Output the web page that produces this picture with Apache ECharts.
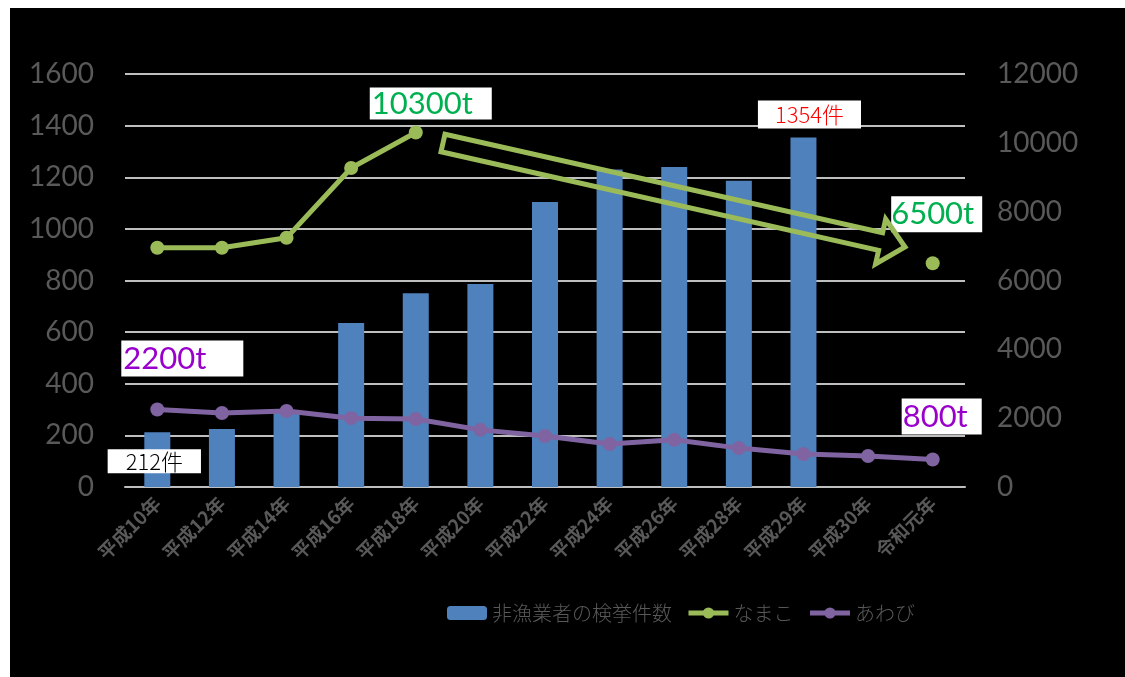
<!DOCTYPE html>
<html>
<head>
<meta charset="utf-8">
<title>非漁業者の検挙件数となまこ・あわび</title>
<script src="https://cdn.jsdelivr.net/npm/echarts@6/dist/echarts.min.js"></script>
<style>
	html, body { margin: 0; padding: 0; background: #fff; }
	#main { position: absolute; left: 10px; top: 8px; width: 1115px; height: 669px; background: #000; }
</style>
</head>
<body>
<div id="main"></div>
<script>
// データ
var categories = ['平成10年', '平成12年', '平成14年', '平成16年', '平成18年', '平成20年', '平成22年', '平成24年', '平成26年', '平成28年', '平成29年', '平成30年', '令和元年'];
var kenkyo = [212, 225, 290, 635, 751, 786, 1104, 1230, 1240, 1186, 1354, null, null];
var namako = [6950, 6950, 7240, 9270, 10300, null, null, null, null, null, null, null, 6500];
var awabi = [2250, 2150, 2210, 2000, 1975, 1660, 1480, 1250, 1370, 1130, 960, 900, 800];
var leftTicks = [0, 1600, 200];
var rightTicks = [0, 12000, 2000];

var gray = '#595959';
var jp = '"Noto Sans CJK JP"';

// 白枠付きのラベル
function boxLabel(text, color, size, pad, offset) {
	return {
		show: true,
		position: 'top',
		distance: 0,
		offset: offset,
		formatter: text,
		color: color,
		fontSize: size,
		fontFamily: size > 24 ? 'Lato' : jp,
		fontWeight: size > 24 ? 'normal' : 300,
		backgroundColor: '#fff',
		padding: pad
	};
}

var barData = kenkyo.map(function(v, i) {
	if(i == 0) return { value: v, label: boxLabel('212件', '#000', 22, [1, 18, 1, 18], [-3, 41]) };
	if(i == 10) return { value: v, label: boxLabel('1354件', '#ff0000', 22, [3, 17, 3, 17], [6, -9]) };
	return v;
});
var namakoData = namako.map(function(v, i) {
	if(i == 4) return { value: v, label: boxLabel('10300t', '#00b050', 31, [1, 19, 0, 2], [15, -6]) };
	if(i == 12) return { value: v, label: boxLabel('6500t', '#00b050', 31, [2, 8, 3, 0], [4, -24]) };
	return v;
});
var awabiData = awabi.map(function(v, i) {
	if(i == 0) return { value: v, label: boxLabel('2200t', '#9900cc', 31, [3, 37, 2, 2], [25, -26]) };
	if(i == 12) return { value: v, label: boxLabel('800t', '#9900cc', 31, [3, 14, 2, 1], [9, -18]) };
	return v;
});

var myChart = echarts.init(document.getElementById('main'));

// 矢印（白抜き）
var tail = [443, 143], tip = [905, 247];
var dx = tip[0] - tail[0], dy = tip[1] - tail[1];
var len = Math.sqrt(dx * dx + dy * dy);
var ux = dx / len, uy = dy / len, nx = -uy, ny = ux;
var bx = tip[0] - 25 * ux - 10, by = tip[1] - 25 * uy - 8;
function pt(x, y, k) { return [x + k * nx, y + k * ny]; }
var arrowPts = [
	pt(tail[0] - 10, tail[1] - 8, -9), pt(bx, by, -9), pt(bx, by, -23),
	[tip[0] - 10, tip[1] - 8],
	pt(bx, by, 23), pt(bx, by, 9), pt(tail[0] - 10, tail[1] - 8, 9)
];

// 桁区切りなし
function plain(v) { return String(v); }

option = {
	backgroundColor: '#000',
	animation: false,
	grid: {
		left: 115,
		right: 160,
		top: 66,
		bottom: 190
	},
	legend: {
		left: 432,
		top: 590,
		itemWidth: 40,
		itemHeight: 14,
		itemGap: 14,
		textStyle: { color: gray, fontSize: 20, fontFamily: jp, fontWeight: 300 },
		data: [
			{ name: '非漁業者の検挙件数' },
			{ name: 'なまこ', lineStyle: { width: 5 } },
			{ name: 'あわび', lineStyle: { width: 5 } }
		]
	},
	xAxis: {
		type: 'category',
		data: categories,
		axisLine: { lineStyle: { color: '#bfbfbf', width: 2 } },
		axisTick: { show: false },
		axisLabel: {
			rotate: 45,
			interval: 0,
			margin: 13,
			color: gray,
			fontSize: 19,
			fontWeight: 'bold',
			fontFamily: jp
		}
	},
	yAxis: [{
		type: 'value',
		min: leftTicks[0],
		max: leftTicks[1],
		interval: leftTicks[2],
		axisLine: { show: false },
		axisTick: { show: false },
		axisLabel: { color: gray, fontSize: 28, fontFamily: 'Lato', margin: 31, formatter: plain },
		splitLine: { lineStyle: { color: '#bfbfbf', width: 2 } }
	}, {
		type: 'value',
		min: rightTicks[0],
		max: rightTicks[1],
		interval: rightTicks[2],
		axisLine: { show: false },
		axisTick: { show: false },
		axisLabel: { color: gray, fontSize: 28, fontFamily: 'Lato', margin: 32, formatter: plain },
		splitLine: { show: false }
	}],
	series: [{
		name: '非漁業者の検挙件数',
		type: 'bar',
		barWidth: 26,
		itemStyle: { color: '#4f81bd' },
		data: barData,
		z: 2
	}, {
		name: 'なまこ',
		type: 'line',
		yAxisIndex: 1,
		symbol: 'circle',
		symbolSize: 14,
		connectNulls: false,
		itemStyle: { color: '#9bbb59' },
		lineStyle: { color: '#9bbb59', width: 5 },
		data: namakoData,
		z: 3
	}, {
		name: 'あわび',
		type: 'line',
		yAxisIndex: 1,
		symbol: 'circle',
		symbolSize: 14,
		itemStyle: { color: '#8064a2' },
		lineStyle: { color: '#8064a2', width: 5 },
		data: awabiData,
		z: 3
	}],
	graphic: [{
		type: 'polygon',
		z: 100,
		shape: { points: arrowPts },
		style: { fill: 'none', stroke: '#9bbb59', lineWidth: 5 }
	}]
};

myChart.setOption(option);
</script>
</body>
</html>
